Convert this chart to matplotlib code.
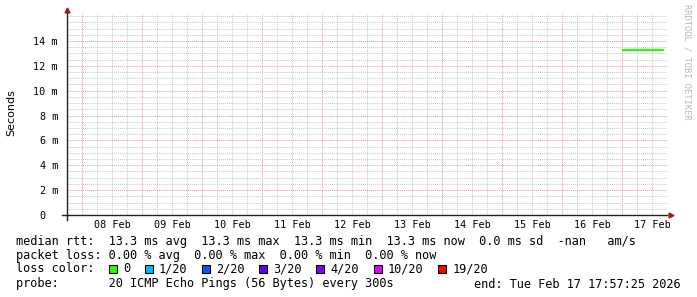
import matplotlib
matplotlib.use("Agg")
import matplotlib.pyplot as plt
import matplotlib.dates as mdates
from matplotlib.patches import Rectangle
import pandas as pd

# data
rtt_times = pd.to_datetime(["2026-02-17 00:00", "2026-02-17 16:55"])
rtt_ms = [13.3, 13.3]
t_end = pd.Timestamp("2026-02-17 17:57:25")
t_start = t_end - pd.Timedelta(days=10)

y_ticks = [0, 2, 4, 6, 8, 10, 12, 14]
y_labels = ["0  ", "2 m", "4 m", "6 m", "8 m", "10 m", "12 m", "14 m"]

stats_line = "median rtt:  13.3 ms avg  13.3 ms max  13.3 ms min  13.3 ms now  0.0 ms sd  -nan   am/s"
loss_line = "packet loss: 0.00 % avg  0.00 % max  0.00 % min  0.00 % now"
probe_line = "probe:       20 ICMP Echo Pings (56 Bytes) every 300s"
end_line = "end: Tue Feb 17 17:57:25 2026"
loss_labels = ["0", "1/20", "2/20", "3/20", "4/20", "10/20", "19/20"]
loss_colors = ["#26ff00", "#00b8ff", "#0059ff", "#5e00ff", "#7e00ff", "#dd00ff", "#ff0000"]

W, H = 697, 297
MONO = "DejaVu Sans Mono"
LEG_FS = 8.55
PITCH = 7.15  # px per char at LEG_FS

fig = plt.figure(figsize=(W / 100, H / 100), dpi=100)
ax = fig.add_axes([67 / W, 1 - 215 / H, 600 / W, 202 / H])

ax.plot(rtt_times, rtt_ms, color="#26ff00", lw=1.6, zorder=5, solid_capstyle="butt")
ax.set_xlim(t_start, t_end)
ax.set_ylim(0, 16.25)

# grids: red at majors, grey at minors
ax.set_yticks(y_ticks)
ax.set_yticklabels(y_labels, family=MONO, fontsize=7.3)
ax.yaxis.set_minor_locator(matplotlib.ticker.MultipleLocator(0.5))

ax.xaxis.set_major_locator(mdates.DayLocator())
ax.xaxis.set_major_formatter(matplotlib.ticker.NullFormatter())
ax.xaxis.set_minor_locator(mdates.HourLocator(byhour=[6, 12, 18]))


def day_label(x, pos):
    d = mdates.num2date(x)
    return d.strftime("%d %b") if d.hour == 12 else ""


ax.xaxis.set_minor_formatter(matplotlib.ticker.FuncFormatter(day_label))
for lab in ax.get_xticklabels(minor=True):
    lab.set_family(MONO)
ax.tick_params(axis="x", which="minor", labelsize=7.3, pad=3.5, length=0)
ax.tick_params(axis="both", which="major", length=0)
ax.tick_params(axis="y", which="both", length=0, pad=6.5)

ax.grid(which="minor", color="#c8c8c8", lw=0.7, ls=(0, (1, 1)))
ax.grid(which="major", color="#e49a9a", lw=0.7, ls=(0, (1, 1)))
ax.set_axisbelow(True)

for s in ax.spines.values():
    s.set_visible(False)

# axis lines with arrows
ax.plot([0, 0], [-0.025, 1.0], transform=ax.transAxes, color="#202020", lw=1, clip_on=False)
ax.plot([-0.008, 1.0], [0, 0], transform=ax.transAxes, color="#202020", lw=1, clip_on=False)
ax.plot(0, 1.014, marker="^", color="#9a1a1a", ms=3.5, transform=ax.transAxes, clip_on=False)
ax.plot(1.006, 0, marker=">", color="#9a1a1a", ms=3.5, transform=ax.transAxes, clip_on=False)

fig.text(11 / W, 1 - 113 / H, "Seconds", rotation=90, ha="center", va="center",
         fontsize=8, family="DejaVu Sans")
fig.text(687 / W, 1 - 4 / H, "RRDTOOL / TOBI OETIKER", rotation=270, ha="center", va="top",
         fontsize=6.3, family=MONO, color="#b8b8b8")


def put(x, y, s, **kw):
    fig.text(x / W, 1 - y / H, s, family=MONO, fontsize=LEG_FS, va="center", **kw)


x0 = 16
put(x0, 241, stats_line)
put(x0, 255, loss_line)
put(x0, 269, "loss color:")
col = 13
for lab, c in zip(loss_labels, loss_colors):
    sx = x0 + col * PITCH
    fig.add_artist(Rectangle((sx / W, 1 - 273 / H), 8 / W, 8 / H, transform=fig.transFigure,
                             facecolor=c, edgecolor="black", lw=0.8))
    put(sx + 2 * PITCH, 269, lab)
    col += 2 + len(lab) + 2
put(x0, 284, probe_line)
put(681, 284, end_line, ha="right")

fig.savefig("out.png", dpi=100, facecolor="white")
